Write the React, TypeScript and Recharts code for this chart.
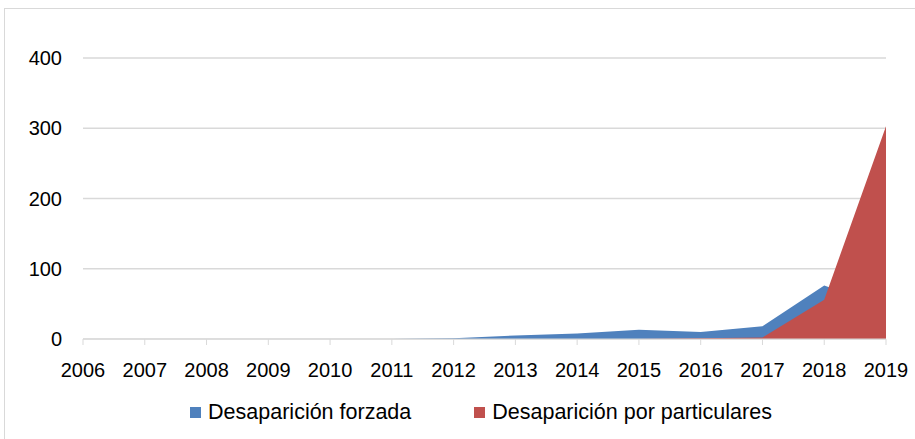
import React from "react";
import {
  Area,
  AreaChart,
  CartesianGrid,
  Legend,
  XAxis,
  YAxis,
} from "recharts";

const years = [
  "2006", "2007", "2008", "2009", "2010", "2011", "2012",
  "2013", "2014", "2015", "2016", "2017", "2018", "2019",
];
const forzada = [0, 0, 0, 0, 0, 0, 1, 5, 8, 13, 10, 18, 76, 45];
const particulares = [0, 0, 0, 0, 0, 0, 0, 0, 0, 0, 1, 2, 56, 303];
const yTicks = [0, 100, 200, 300, 400];

const seriesNames = {
  forzada: "Desaparición forzada",
  particulares: "Desaparición por particulares",
};
const colors = { forzada: "#4F81BD", particulares: "#C0504D" };

const data = years.map((year, i) => ({
  year,
  forzada: forzada[i],
  particulares: particulares[i],
}));

const FONT = "'Liberation Sans', Arial, sans-serif";

const LegendContent = () => (
  <div
    style={{
      display: "flex",
      justifyContent: "center",
      alignItems: "center",
      paddingLeft: 47,
      height: 24,
      fontFamily: FONT,
      fontSize: 21.5,
      color: "#000",
    }}
  >
    {(["forzada", "particulares"] as const).map((k, i) => (
      <div
        key={k}
        style={{ display: "flex", alignItems: "center", marginLeft: i ? 63 : 0 }}
      >
        <span
          style={{
            width: 11,
            height: 11,
            background: colors[k],
            display: "inline-block",
            marginRight: 7,
          }}
        />
        <span>{seriesNames[k]}</span>
      </div>
    ))}
  </div>
);

const App = () => {
  return (
    <div
      style={{
        position: "fixed",
        left: 0,
        top: 0,
        width: 915,
        height: 439,
        overflow: "hidden",
        background: "#fff",
      }}
    >
      <div
        style={{
          position: "absolute",
          left: 4,
          top: 8,
          width: 1000,
          height: 1000,
          border: "1px solid #d9d9d9",
        }}
      />
      <AreaChart
        width={915}
        height={439}
        data={data}
        margin={{ top: 58, right: 29, left: 0, bottom: 15 }}
        style={{ position: "absolute", left: 0, top: 0 }}
      >
        <CartesianGrid vertical={false} stroke="#d9d9d9" strokeWidth={1.5} />
        <XAxis
          dataKey="year"
          height={61}
          stroke="#d9d9d9"
          tick={{ fill: "#000", fontSize: 20, fontFamily: FONT }}
          tickSize={6}
          tickMargin={18}
          interval={0}
        />
        <YAxis
          width={83}
          domain={[0, 400]}
          ticks={yTicks}
          axisLine={false}
          tickLine={false}
          tickSize={0}
          tickMargin={21}
          tick={{ fill: "#000", fontSize: 20, fontFamily: FONT }}
        />
        <Area
          type="linear"
          dataKey="forzada"
          name={seriesNames.forzada}
          stroke="none"
          fill={colors.forzada}
          fillOpacity={1}
          isAnimationActive={false}
        />
        <Area
          type="linear"
          dataKey="particulares"
          name={seriesNames.particulares}
          stroke="none"
          fill={colors.particulares}
          fillOpacity={1}
          isAnimationActive={false}
        />
        <Legend
          verticalAlign="bottom"
          content={<LegendContent />}
          wrapperStyle={{ left: 0, width: 915 }}
        />
      </AreaChart>
    </div>
  );
};

export default App;
